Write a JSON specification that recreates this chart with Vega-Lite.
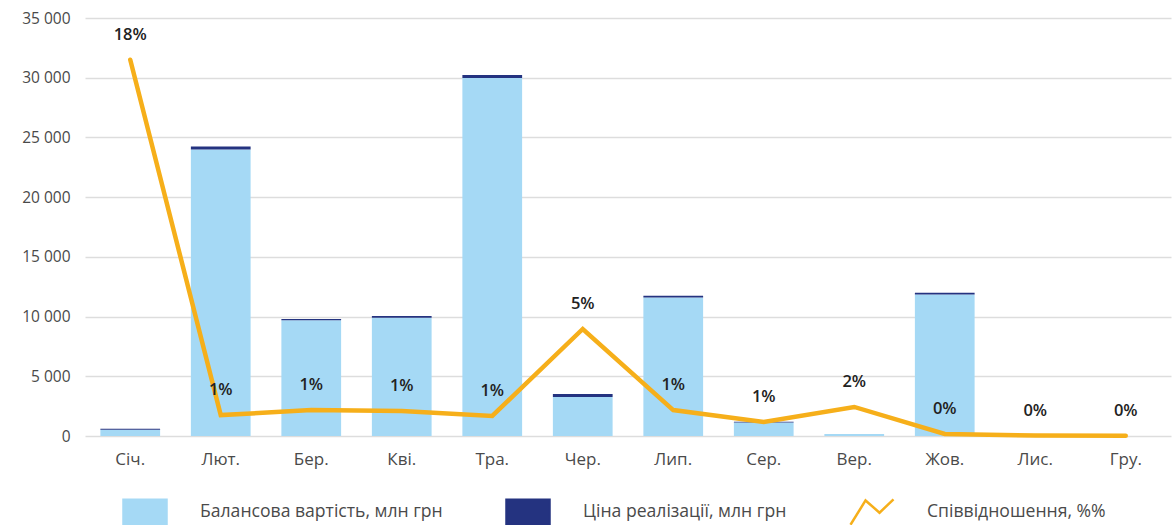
{
  "$schema": "https://vega.github.io/schema/vega-lite/v6.json",
  "width": 1086,
  "height": 418,
  "autosize": "none",
  "padding": {"left": 85, "top": 18, "right": 2, "bottom": 89},
  "background": "white",
  "config": {
    "locale": {"number": {"decimal": ",", "thousands": " ", "grouping": [3], "currency": ["", ""]}},
    "view": {"stroke": null},
    "font": "Open Sans"
  },
  "data": {
    "values": [
      {"month": "Січ.", "balance": 520, "price": 95, "ratio": 18.0, "label": "18%"},
      {"month": "Лют.", "balance": 23980, "price": 260, "ratio": 1.0, "label": "1%"},
      {"month": "Бер.", "balance": 9690, "price": 110, "ratio": 1.24, "label": "1%"},
      {"month": "Кві.", "balance": 9900, "price": 140, "ratio": 1.2, "label": "1%"},
      {"month": "Тра.", "balance": 29980, "price": 250, "ratio": 0.96, "label": "1%"},
      {"month": "Чер.", "balance": 3260, "price": 250, "ratio": 5.12, "label": "5%"},
      {"month": "Лип.", "balance": 11590, "price": 160, "ratio": 1.24, "label": "1%"},
      {"month": "Сер.", "balance": 1120, "price": 80, "ratio": 0.67, "label": "1%"},
      {"month": "Вер.", "balance": 170, "price": 3, "ratio": 1.39, "label": "2%"},
      {"month": "Жов.", "balance": 11840, "price": 160, "ratio": 0.1, "label": "0%"},
      {"month": "Лис.", "balance": 0, "price": 0, "ratio": 0.02, "label": "0%"},
      {"month": "Гру.", "balance": 0, "price": 0, "ratio": 0.01, "label": "0%"}
    ]
  },
  "encoding": {
    "x": {
      "field": "month",
      "type": "nominal",
      "sort": null,
      "scale": {"paddingInner": 0.34, "paddingOuter": 0.17},
      "axis": {
        "title": null,
        "labelAngle": 0,
        "ticks": false,
        "domain": false,
        "labelPadding": 15,
        "labelFontSize": 17,
        "labelColor": "#4a4a4a",
        "labelFont": "Open Sans"
      }
    }
  },
  "layer": [
    {
      "transform": [
        {"fold": ["balance", "price"], "as": ["key", "value"]},
        {"lookup": "key", "from": {"data": {"values": [
          {"key": "balance", "series": "Балансова вартість, млн грн", "ord": 0},
          {"key": "price", "series": "Ціна реалізації, млн грн", "ord": 1}
        ]}, "key": "key", "fields": ["series", "ord"]}}
      ],
      "mark": {"type": "bar"},
      "encoding": {
        "y": {
          "field": "value",
          "type": "quantitative",
          "stack": "zero",
          "scale": {"domain": [0, 35000], "nice": false},
          "axis": {
            "title": null,
            "values": [0, 5000, 10000, 15000, 20000, 25000, 30000, 35000],
            "labelOverlap": false,
            "format": ",d",
            "ticks": false,
            "domain": false,
            "labelPadding": 15,
            "labelFontSize": 15.5,
            "labelColor": "#4a4a4a",
            "gridColor": "#dddddd",
            "gridWidth": 1.5
          }
        },
        "order": {"field": "ord", "type": "quantitative"},
        "color": {
          "field": "series",
          "type": "nominal",
          "scale": {
            "domain": ["Балансова вартість, млн грн", "Ціна реалізації, млн грн", "Співвідношення, %%"],
            "range": ["#A5D9F5", "#243380", "#F6AF1A"]
          },
          "legend": {
            "title": null,
            "orient": "none",
            "direction": "horizontal",
            "legendX": 37,
            "legendY": 471,
            "padding": 0,
            "columns": 3,
            "gridAlign": "each",
            "columnPadding": 58,
            "symbolSize": 1849,
            "labelOffset": 32,
            "labelFontSize": 17.6,
            "labelColor": "#4a4a4a",
            "labelFont": "Open Sans",
            "labelFontWeight": 400,
            "labelLimit": 0,
            "encode": {
              "symbols": {
                "update": {
                  "shape": {"signal": "datum.value === 'Співвідношення, %%' ? 'M-1,0.58L-0.3,-0.55L0.35,0.02L1,-0.6' : 'M-1,-0.58H1V0.58H-1Z'"},
                  "fill": {"signal": "datum.value === 'Співвідношення, %%' ? null : (datum.value === 'Ціна реалізації, млн грн' ? '#243380' : '#A5D9F5')"},
                  "fillOpacity": {"signal": "datum.value === 'Співвідношення, %%' ? 0 : 1"},
                  "stroke": {"signal": "datum.value === 'Співвідношення, %%' ? '#F6AF1A' : null"},
                  "strokeWidth": {"value": 2.5},
                  "opacity": {"value": 1}
                }
              }
            }
          }
        }
      }
    },
    {
      "layer": [
        {
          "mark": {"type": "line", "strokeWidth": 4.5, "strokeCap": "round", "strokeJoin": "miter"},
          "encoding": {
            "y": {"field": "ratio", "type": "quantitative", "scale": {"domain": [0, 20]}, "axis": null},
            "color": {"datum": "Співвідношення, %%"}
          }
        },
        {
          "mark": {"type": "text", "dy": -25, "fontSize": 16.5, "fontWeight": 600, "color": "#222222", "font": "Open Sans"},
          "encoding": {
            "y": {"field": "ratio", "type": "quantitative", "scale": {"domain": [0, 20]}, "axis": null},
            "text": {"field": "label"}
          }
        }
      ]
    }
  ],
  "resolve": {"scale": {"y": "independent"}}
}
